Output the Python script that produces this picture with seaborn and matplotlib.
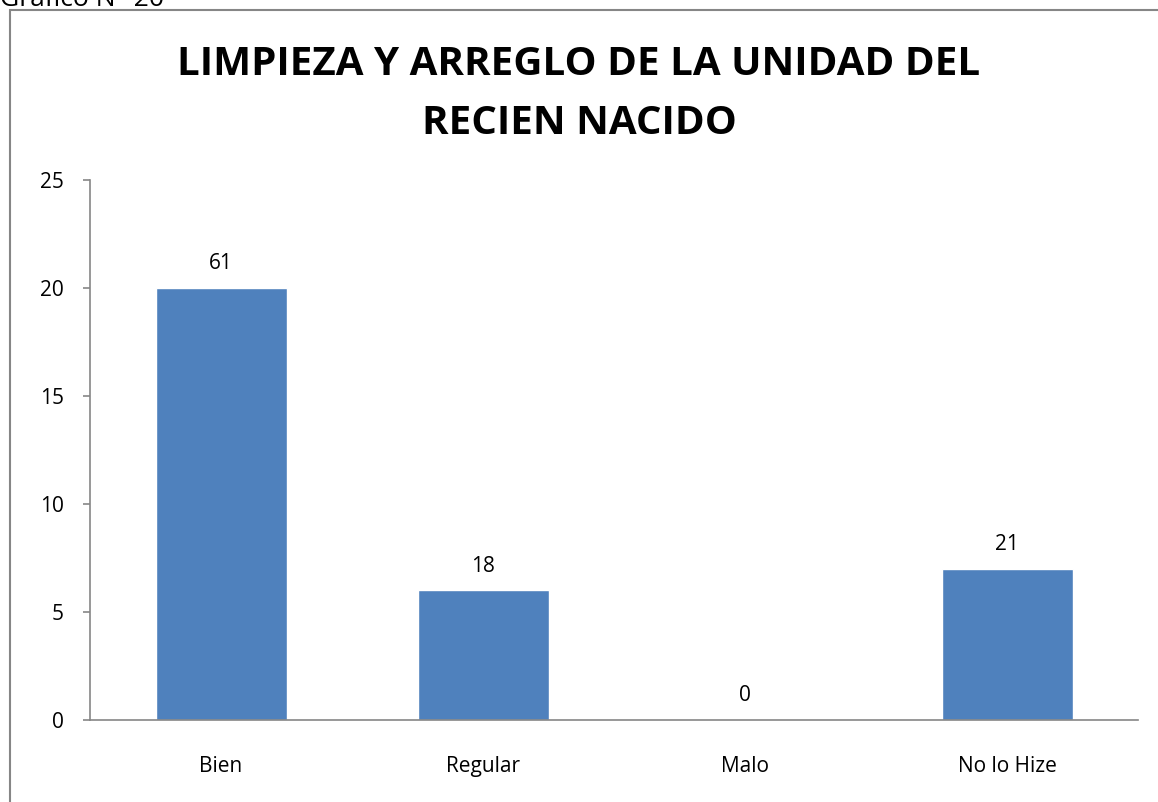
import matplotlib
matplotlib.use("Agg")
import matplotlib.pyplot as plt
from matplotlib.patches import Rectangle
import seaborn as sns
import pandas as pd
import numpy as np

# datos del grafico
categorias = ["Bien", "Regular", "Malo", "No lo Hize"]
valores = [20, 6, 0, 7]
porcentajes = ["61", "18", "0", "21"]
yticks = [0, 5, 10, 15, 20, 25]

titulo = "LIMPIEZA Y ARREGLO DE LA UNIDAD DEL\nRECIEN NACIDO"
encabezado = "Gráfico N° 20"

sns.set_style("white")
plt.rcParams["font.family"] = ["Open Sans", "DejaVu Sans"]
plt.rcParams["text.color"] = "black"
plt.rcParams["xtick.color"] = "black"
plt.rcParams["ytick.color"] = "black"

df = pd.DataFrame({"categoria": categorias, "valor": valores})

fig = plt.figure(figsize=(11.58, 8.02), dpi=100)
ax = fig.add_axes([90 / 1158, 1 - 720 / 802, (1138 - 90) / 1158, (720 - 180) / 802])

sns.barplot(data=df, x="categoria", y="valor", color="#4F81BD", width=0.5,
            saturation=1, ax=ax)

# etiquetas de datos
for i, (v, p) in enumerate(zip(valores, porcentajes)):
    ax.annotate(p, (i, v), xytext=(0, 10), textcoords="offset points",
                ha="center", va="bottom", fontsize=15)

gris = "#868686"
ax.set_ylim(0, 25)
ax.set_xlim(-0.5, len(categorias) - 0.5)
ax.set_yticks(yticks)
ax.set_xlabel("")
ax.set_ylabel("")
for s in ["top", "right"]:
    ax.spines[s].set_visible(False)
for s in ["left", "bottom"]:
    ax.spines[s].set_color(gris)
    ax.spines[s].set_linewidth(1.2)

ax.set_xticks(np.arange(-0.5, len(categorias)), minor=True)
ax.tick_params(axis="x", which="major", length=0, pad=26, labelsize=15)
ax.tick_params(axis="x", which="minor", length=5, color=gris, width=1.2, direction="out")
ax.tick_params(axis="y", length=5, color=gris, width=1.2, direction="out",
               labelsize=15, pad=14, left=True)

fig.text(0.5, 1 - 94 / 802, titulo, ha="center", va="center",
         fontsize=29, fontweight="bold", linespacing=1.65)

# marco del grafico
fig.patches.append(Rectangle((10 / 1158, -0.05), 1.1, 1 - 10 / 802 + 0.05,
                             transform=fig.transFigure, fill=False,
                             edgecolor=gris, linewidth=1.5))
fig.text(0.0, 1 - 6 / 802, encabezado, ha="left", va="baseline", fontsize=19)

fig.savefig("out.png", dpi=100)
